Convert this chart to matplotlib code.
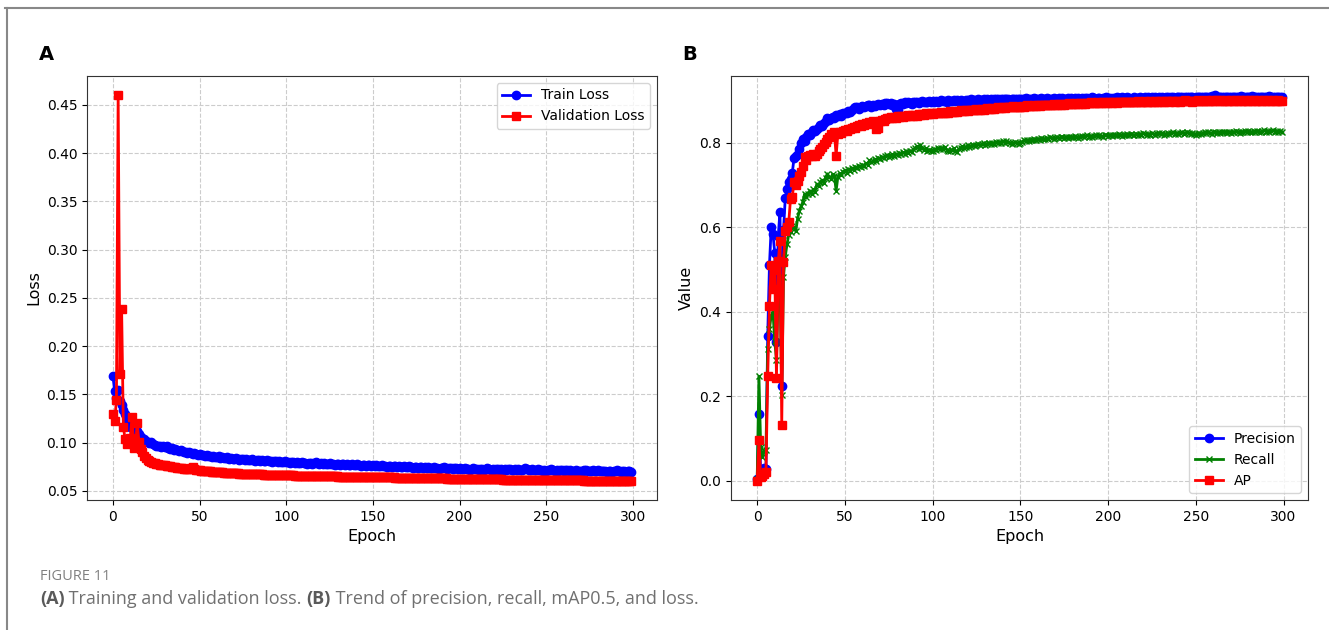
# ==============================
# FIGURE 11 - Loss curves and detection metrics
# ==============================

import numpy as np
import matplotlib.pyplot as plt
from matplotlib.lines import Line2D

# ------------------------------
# 1. Data
# ------------------------------
train_loss = [
    0.169, 0.153, 0.146, 0.155, 0.143, 0.139, 0.134, 0.130, 0.122, 0.120, 0.116, 0.118, 0.113, 0.111, 0.112,
    0.109, 0.106, 0.104, 0.104, 0.102, 0.101, 0.100, 0.101, 0.099, 0.098, 0.097, 0.097, 0.096, 0.095, 0.096,
    0.095, 0.096, 0.094, 0.093, 0.094, 0.092, 0.093, 0.092, 0.091, 0.092, 0.091, 0.090, 0.090, 0.089, 0.090,
    0.089, 0.088, 0.089, 0.088, 0.087, 0.088, 0.087, 0.087, 0.086, 0.087, 0.086, 0.086, 0.085, 0.086, 0.085,
    0.085, 0.086, 0.084, 0.085, 0.084, 0.084, 0.085, 0.083, 0.084, 0.083, 0.083, 0.084, 0.083, 0.082, 0.083,
    0.083, 0.082, 0.083, 0.082, 0.082, 0.083, 0.082, 0.081, 0.082, 0.082, 0.081, 0.082, 0.081, 0.081, 0.082,
    0.081, 0.081, 0.080, 0.081, 0.081, 0.080, 0.081, 0.080, 0.080, 0.081, 0.080, 0.080, 0.079, 0.080, 0.080,
    0.079, 0.080, 0.079, 0.079, 0.080, 0.079, 0.079, 0.078, 0.079, 0.079, 0.078, 0.079, 0.080, 0.079, 0.078,
    0.079, 0.078, 0.079, 0.078, 0.078, 0.079, 0.078, 0.078, 0.077, 0.078, 0.078, 0.077, 0.078, 0.078, 0.077,
    0.078, 0.077, 0.077, 0.078, 0.077, 0.077, 0.078, 0.077, 0.076, 0.077, 0.077, 0.076, 0.077, 0.077, 0.076,
    0.077, 0.076, 0.077, 0.076, 0.076, 0.077, 0.076, 0.076, 0.075, 0.076, 0.076, 0.075, 0.076, 0.076, 0.075,
    0.076, 0.075, 0.075, 0.076, 0.075, 0.075, 0.076, 0.075, 0.074, 0.075, 0.075, 0.074, 0.075, 0.075, 0.074,
    0.075, 0.074, 0.075, 0.074, 0.074, 0.075, 0.074, 0.074, 0.073, 0.074, 0.074, 0.075, 0.074, 0.073, 0.074,
    0.074, 0.073, 0.074, 0.074, 0.073, 0.074, 0.073, 0.073, 0.074, 0.073, 0.073, 0.072, 0.073, 0.074, 0.073,
    0.073, 0.072, 0.073, 0.073, 0.072, 0.073, 0.074, 0.073, 0.072, 0.073, 0.072, 0.073, 0.073, 0.072, 0.073,
    0.072, 0.073, 0.072, 0.073, 0.073, 0.072, 0.072, 0.073, 0.072, 0.073, 0.072, 0.072, 0.073, 0.074, 0.073,
    0.072, 0.072, 0.073, 0.072, 0.072, 0.073, 0.072, 0.072, 0.071, 0.072, 0.071, 0.072, 0.072, 0.073, 0.072,
    0.071, 0.072, 0.071, 0.072, 0.072, 0.071, 0.072, 0.072, 0.071, 0.072, 0.071, 0.071, 0.072, 0.071, 0.071,
    0.071, 0.071, 0.072, 0.072, 0.071, 0.071, 0.071, 0.072, 0.071, 0.071, 0.072, 0.071, 0.071, 0.071, 0.071,
    0.070, 0.071, 0.071, 0.070, 0.071, 0.071, 0.072, 0.071, 0.070, 0.071, 0.071, 0.070, 0.071, 0.071, 0.070,
]

val_loss = [
    0.130, 0.122, 0.144, 0.460, 0.171, 0.238, 0.116, 0.104, 0.099, 0.100, 0.105, 0.127, 0.094, 0.097, 0.120,
    0.101, 0.093, 0.090, 0.086, 0.084, 0.082, 0.081, 0.080, 0.079, 0.0785, 0.078, 0.0775, 0.077, 0.0765, 0.0768,
    0.0765, 0.0762, 0.0758, 0.0755, 0.0752, 0.0748, 0.0745, 0.0742, 0.0738, 0.0735, 0.0733, 0.0730, 0.0728, 0.0726, 0.0724,
    0.0735, 0.0750, 0.0722, 0.0718, 0.0715, 0.0713, 0.0711, 0.0709, 0.0707, 0.0705, 0.0703, 0.0701, 0.0700, 0.0698, 0.0697,
    0.0695, 0.0694, 0.0692, 0.0691, 0.0690, 0.0688, 0.0687, 0.0686, 0.0685, 0.0684, 0.0683, 0.0682, 0.0681, 0.0680, 0.0679,
    0.0678, 0.0677, 0.0676, 0.0676, 0.0675, 0.0674, 0.0673, 0.0673, 0.0672, 0.0671, 0.0670, 0.0670, 0.0669, 0.0668, 0.0668,
    0.0667, 0.0667, 0.0666, 0.0665, 0.0665, 0.0664, 0.0664, 0.0663, 0.0663, 0.0662, 0.0662, 0.0661, 0.0661, 0.0660, 0.0660,
    0.0659, 0.0659, 0.0658, 0.0658, 0.0657, 0.0657, 0.0656, 0.0656, 0.0656, 0.0655, 0.0655, 0.0654, 0.0654, 0.0654, 0.0653,
    0.0653, 0.0652, 0.0652, 0.0652, 0.0651, 0.0651, 0.0651, 0.0650, 0.0650, 0.0650, 0.0649, 0.0649, 0.0649, 0.0648, 0.0648,
    0.0648, 0.0647, 0.0647, 0.0647, 0.0646, 0.0646, 0.0646, 0.0645, 0.0645, 0.0645, 0.0644, 0.0644, 0.0644, 0.0643, 0.0643,
    0.0643, 0.0642, 0.0642, 0.0642, 0.0641, 0.0641, 0.0641, 0.0640, 0.0640, 0.0640, 0.0639, 0.0639, 0.0639, 0.0638, 0.0638,
    0.0638, 0.0637, 0.0637, 0.0637, 0.0636, 0.0636, 0.0636, 0.0635, 0.0635, 0.0635, 0.0634, 0.0634, 0.0634, 0.0633, 0.0633,
    0.0633, 0.0632, 0.0632, 0.0632, 0.0631, 0.0631, 0.0631, 0.0630, 0.0630, 0.0630, 0.0629, 0.0629, 0.0629, 0.0628, 0.0628,
    0.0628, 0.0627, 0.0627, 0.0627, 0.0626, 0.0626, 0.0626, 0.0625, 0.0625, 0.0625, 0.0624, 0.0624, 0.0624, 0.0623, 0.0623,
    0.0623, 0.0622, 0.0622, 0.0622, 0.0621, 0.0621, 0.0621, 0.0620, 0.0620, 0.0620, 0.0620, 0.0619, 0.0619, 0.0619, 0.0619,
    0.0618, 0.0618, 0.0618, 0.0618, 0.0617, 0.0617, 0.0617, 0.0617, 0.0616, 0.0616, 0.0616, 0.0616, 0.0615, 0.0615, 0.0615,
    0.0615, 0.0614, 0.0614, 0.0614, 0.0614, 0.0613, 0.0613, 0.0613, 0.0613, 0.0612, 0.0612, 0.0612, 0.0612, 0.0611, 0.0611,
    0.0611, 0.0611, 0.0610, 0.0610, 0.0610, 0.0610, 0.0610, 0.0609, 0.0609, 0.0609, 0.0609, 0.0609, 0.0608, 0.0608, 0.0608,
    0.0608, 0.0608, 0.0607, 0.0607, 0.0607, 0.0607, 0.0607, 0.0607, 0.0606, 0.0606, 0.0606, 0.0606, 0.0606, 0.0606, 0.0606,
    0.0605, 0.0605, 0.0605, 0.0605, 0.0605, 0.0605, 0.0605, 0.0605, 0.0605, 0.0605, 0.0605, 0.0605, 0.0605, 0.0605, 0.0605,
]

precision = [
    0.004, 0.157, 0.015, 0.012, 0.030, 0.028, 0.343, 0.511, 0.600, 0.584, 0.540, 0.329, 0.580, 0.637, 0.225,
    0.593, 0.669, 0.690, 0.707, 0.715, 0.728, 0.765, 0.768, 0.775, 0.786, 0.800, 0.810, 0.805, 0.815, 0.822,
    0.818, 0.826, 0.830, 0.828, 0.834, 0.838, 0.842, 0.840, 0.848, 0.852, 0.858, 0.855, 0.860, 0.862, 0.858,
    0.866, 0.864, 0.868, 0.865, 0.870, 0.870, 0.872, 0.876, 0.874, 0.879, 0.882, 0.886, 0.884, 0.880, 0.885,
    0.887, 0.884, 0.888, 0.890, 0.889, 0.886, 0.891, 0.888, 0.890, 0.892, 0.889, 0.893, 0.891, 0.894, 0.895,
    0.892, 0.894, 0.890, 0.893, 0.880, 0.878, 0.892, 0.895, 0.893, 0.896, 0.894, 0.897, 0.895, 0.893, 0.897,
    0.896, 0.898, 0.895, 0.897, 0.899, 0.896, 0.898, 0.897, 0.900, 0.898, 0.899, 0.897, 0.900, 0.898, 0.899,
    0.901, 0.899, 0.900, 0.898, 0.901, 0.900, 0.899, 0.902, 0.900, 0.901, 0.899, 0.902, 0.900, 0.892, 0.901,
    0.902, 0.900, 0.903, 0.901, 0.902, 0.900, 0.903, 0.902, 0.901, 0.904, 0.902, 0.903, 0.901, 0.904, 0.902,
    0.903, 0.905, 0.903, 0.902, 0.904, 0.903, 0.905, 0.903, 0.904, 0.902, 0.905, 0.904, 0.903, 0.905, 0.904,
    0.905, 0.903, 0.904, 0.906, 0.904, 0.905, 0.903, 0.905, 0.906, 0.904, 0.905, 0.903, 0.906, 0.904, 0.905,
    0.906, 0.904, 0.905, 0.903, 0.906, 0.905, 0.904, 0.906, 0.905, 0.907, 0.905, 0.904, 0.906, 0.905, 0.906,
    0.904, 0.906, 0.905, 0.907, 0.905, 0.906, 0.904, 0.906, 0.907, 0.905, 0.906, 0.908, 0.906, 0.905, 0.907,
    0.906, 0.905, 0.907, 0.906, 0.908, 0.906, 0.907, 0.905, 0.907, 0.906, 0.908, 0.907, 0.906, 0.908, 0.907,
    0.906, 0.908, 0.907, 0.905, 0.907, 0.908, 0.906, 0.907, 0.909, 0.907, 0.906, 0.908, 0.907, 0.908, 0.906,
    0.908, 0.907, 0.909, 0.907, 0.908, 0.906, 0.908, 0.907, 0.909, 0.908, 0.907, 0.909, 0.908, 0.907, 0.909,
    0.908, 0.910, 0.908, 0.907, 0.909, 0.908, 0.910, 0.908, 0.909, 0.907, 0.909, 0.908, 0.910, 0.909, 0.908,
    0.909, 0.908, 0.910, 0.909, 0.911, 0.909, 0.913, 0.910, 0.909, 0.910, 0.908, 0.910, 0.909, 0.910, 0.909,
    0.910, 0.908, 0.910, 0.909, 0.910, 0.909, 0.911, 0.909, 0.910, 0.908, 0.910, 0.909, 0.911, 0.909, 0.910,
    0.909, 0.910, 0.908, 0.910, 0.909, 0.910, 0.909, 0.911, 0.909, 0.910, 0.909, 0.910, 0.909, 0.910, 0.909,
]

recall = [
    0.003, 0.247, 0.080, 0.056, 0.070, 0.072, 0.311, 0.360, 0.391, 0.400, 0.330, 0.287, 0.450, 0.480, 0.204,
    0.483, 0.531, 0.560, 0.583, 0.590, 0.603, 0.600, 0.591, 0.620, 0.639, 0.650, 0.660, 0.679, 0.672, 0.680,
    0.687, 0.678, 0.690, 0.685, 0.703, 0.698, 0.708, 0.712, 0.705, 0.718, 0.727, 0.720, 0.715, 0.726, 0.722,
    0.687, 0.720, 0.728, 0.724, 0.732, 0.735, 0.730, 0.738, 0.734, 0.741, 0.736, 0.743, 0.740, 0.746, 0.742,
    0.748, 0.745, 0.752, 0.749, 0.759, 0.754, 0.757, 0.762, 0.758, 0.765, 0.761, 0.767, 0.764, 0.769, 0.771,
    0.766, 0.770, 0.773, 0.768, 0.774, 0.771, 0.776, 0.773, 0.778, 0.775, 0.780, 0.777, 0.782, 0.779, 0.785,
    0.788, 0.792, 0.786, 0.795, 0.789, 0.783, 0.787, 0.781, 0.784, 0.780, 0.782, 0.786, 0.783, 0.788, 0.785,
    0.789, 0.786, 0.790, 0.784, 0.782, 0.780, 0.783, 0.787, 0.781, 0.779, 0.785, 0.789, 0.792, 0.788, 0.791,
    0.794, 0.790, 0.793, 0.796, 0.792, 0.795, 0.798, 0.794, 0.797, 0.799, 0.795, 0.798, 0.800, 0.797, 0.801,
    0.798, 0.802, 0.799, 0.803, 0.800, 0.804, 0.801, 0.805, 0.802, 0.800, 0.797, 0.799, 0.802, 0.800, 0.798,
    0.801, 0.803, 0.806, 0.804, 0.807, 0.805, 0.808, 0.806, 0.809, 0.807, 0.810, 0.808, 0.811, 0.809, 0.810,
    0.812, 0.810, 0.813, 0.811, 0.809, 0.812, 0.814, 0.811, 0.813, 0.815, 0.812, 0.814, 0.811, 0.813, 0.815,
    0.813, 0.816, 0.814, 0.812, 0.815, 0.817, 0.814, 0.816, 0.818, 0.815, 0.817, 0.814, 0.816, 0.818, 0.816,
    0.819, 0.817, 0.815, 0.818, 0.820, 0.817, 0.819, 0.816, 0.818, 0.820, 0.818, 0.821, 0.819, 0.817, 0.820,
    0.818, 0.821, 0.819, 0.822, 0.820, 0.818, 0.821, 0.819, 0.822, 0.820, 0.823, 0.821, 0.819, 0.822, 0.820,
    0.823, 0.821, 0.819, 0.822, 0.824, 0.821, 0.823, 0.820, 0.822, 0.824, 0.821, 0.823, 0.825, 0.822, 0.824,
    0.821, 0.823, 0.825, 0.822, 0.824, 0.826, 0.823, 0.821, 0.824, 0.822, 0.820, 0.822, 0.824, 0.821, 0.823,
    0.825, 0.823, 0.826, 0.824, 0.822, 0.825, 0.827, 0.824, 0.826, 0.823, 0.825, 0.827, 0.825, 0.823, 0.826,
    0.824, 0.827, 0.825, 0.828, 0.826, 0.824, 0.827, 0.825, 0.828, 0.826, 0.829, 0.827, 0.825, 0.828, 0.826,
    0.829, 0.827, 0.825, 0.828, 0.830, 0.827, 0.829, 0.826, 0.828, 0.830, 0.827, 0.829, 0.827, 0.828, 0.827,
]

ap = [
    0.000, 0.096, 0.010, 0.012, 0.016, 0.020, 0.247, 0.415, 0.511, 0.455, 0.499, 0.244, 0.520, 0.567, 0.132,
    0.519, 0.591, 0.600, 0.613, 0.667, 0.672, 0.707, 0.700, 0.711, 0.722, 0.731, 0.745, 0.766, 0.760, 0.770,
    0.772, 0.768, 0.775, 0.770, 0.774, 0.780, 0.785, 0.790, 0.798, 0.803, 0.810, 0.815, 0.822, 0.818, 0.825,
    0.770, 0.822, 0.826, 0.824, 0.829, 0.831, 0.828, 0.834, 0.832, 0.836, 0.838, 0.835, 0.840, 0.842, 0.839,
    0.846, 0.843, 0.847, 0.845, 0.849, 0.848, 0.851, 0.850, 0.834, 0.836, 0.852, 0.855, 0.853, 0.857, 0.860,
    0.858, 0.861, 0.859, 0.862, 0.860, 0.863, 0.861, 0.864, 0.862, 0.865, 0.863, 0.866, 0.864, 0.866, 0.865,
    0.867, 0.865, 0.868, 0.866, 0.869, 0.867, 0.870, 0.868, 0.869, 0.871, 0.869, 0.870, 0.872, 0.870, 0.871,
    0.873, 0.871, 0.872, 0.874, 0.872, 0.875, 0.873, 0.874, 0.876, 0.874, 0.875, 0.877, 0.875, 0.876, 0.878,
    0.876, 0.877, 0.879, 0.877, 0.878, 0.880, 0.878, 0.879, 0.881, 0.879, 0.880, 0.882, 0.880, 0.881, 0.883,
    0.881, 0.882, 0.884, 0.882, 0.883, 0.885, 0.883, 0.884, 0.886, 0.884, 0.885, 0.887, 0.885, 0.886, 0.885,
    0.886, 0.888, 0.886, 0.887, 0.889, 0.887, 0.888, 0.887, 0.889, 0.888, 0.890, 0.888, 0.889, 0.891, 0.889,
    0.890, 0.889, 0.891, 0.890, 0.892, 0.890, 0.891, 0.893, 0.891, 0.892, 0.891, 0.893, 0.892, 0.894, 0.892,
    0.893, 0.892, 0.894, 0.893, 0.895, 0.893, 0.894, 0.893, 0.895, 0.894, 0.896, 0.894, 0.895, 0.894, 0.896,
    0.895, 0.894, 0.896, 0.895, 0.897, 0.895, 0.896, 0.895, 0.897, 0.896, 0.895, 0.897, 0.896, 0.898, 0.896,
    0.897, 0.896, 0.898, 0.897, 0.896, 0.898, 0.897, 0.899, 0.897, 0.898, 0.897, 0.899, 0.898, 0.897, 0.899,
    0.898, 0.897, 0.899, 0.898, 0.900, 0.898, 0.899, 0.898, 0.900, 0.899, 0.898, 0.900, 0.899, 0.898, 0.900,
    0.899, 0.898, 0.900, 0.899, 0.901, 0.899, 0.900, 0.899, 0.898, 0.900, 0.899, 0.901, 0.900, 0.899, 0.900,
    0.899, 0.901, 0.900, 0.899, 0.901, 0.900, 0.899, 0.901, 0.900, 0.902, 0.900, 0.899, 0.901, 0.900, 0.899,
    0.901, 0.900, 0.899, 0.901, 0.900, 0.902, 0.900, 0.899, 0.901, 0.900, 0.899, 0.901, 0.900, 0.902, 0.900,
    0.899, 0.901, 0.900, 0.899, 0.901, 0.900, 0.902, 0.900, 0.899, 0.901, 0.900, 0.899, 0.901, 0.900, 0.900,
]

epochs = np.arange(len(train_loss))

# caption pieces: (text, bold?)
caption_parts = [
    ("(A)", True), (" Training and validation loss. ", False),
    ("(B)", True), (" Trend of precision, recall, mAP0.5, and loss.", False),
]

# ------------------------------
# 2. Figure layout
# ------------------------------
fig = plt.figure(figsize=(13.29, 6.30), dpi=100)
fig.patch.set_facecolor("white")

ax1 = fig.add_axes([0.0655, 0.2063, 0.4289, 0.6731])
ax2 = fig.add_axes([0.5500, 0.2063, 0.4342, 0.6731])

# ------------------------------
# 3. Panel A: loss
# ------------------------------
ax1.plot(epochs, train_loss, color="blue", marker="o", markersize=6, linewidth=2, label="Train Loss")
ax1.plot(epochs, val_loss, color="red", marker="s", markersize=6, linewidth=2, label="Validation Loss")
ax1.set_xlabel("Epoch", fontsize=11.5)
ax1.set_ylabel("Loss", fontsize=11.5)
ax1.set_yticks(np.arange(0.05, 0.46, 0.05))
ax1.grid(True, linestyle="--", color="#cccccc", linewidth=0.8)
ax1.legend(loc="upper right", fontsize=10)
ax1.tick_params(labelsize=10)

# ------------------------------
# 4. Panel B: precision / recall / AP
# ------------------------------
ax2.plot(epochs, precision, color="blue", marker="o", markersize=6, linewidth=2, label="Precision")
ax2.plot(epochs, recall, color="green", marker="x", markersize=4.5, linewidth=2, label="Recall")
ax2.plot(epochs, ap, color="red", marker="s", markersize=6, linewidth=2, label="AP")
ax2.set_xlabel("Epoch", fontsize=11.5)
ax2.set_ylabel("Value", fontsize=11.5)
ax2.grid(True, linestyle="--", color="#cccccc", linewidth=0.8)
ax2.legend(loc="lower right", fontsize=10)
ax2.tick_params(labelsize=10)

for ax in (ax1, ax2):
    for s in ax.spines.values():
        s.set_color("#333333")

# ------------------------------
# 5. Panel letters, caption and card border
# ------------------------------
fig.text(0.029, 0.905, "A", fontsize=14, fontweight="bold")
fig.text(0.513, 0.905, "B", fontsize=14, fontweight="bold")

fig.text(0.030, 0.080, "FIGURE 11", fontsize=10.5, color="#808080", family="Open Sans")

# caption: pieces chained one after another so bold and normal text can mix
anchor = fig.text(0.030, 0.042, caption_parts[0][0], fontsize=13, color="#5a5a5a",
                  family="Open Sans", fontweight="bold")
for txt, bold in caption_parts[1:]:
    anchor = fig.add_artist(plt.Annotation(
        txt, xy=(1, 0), xycoords=anchor, xytext=(0, 0), textcoords="offset points",
        va="bottom", fontsize=13, color="#5a5a5a" if bold else "#707070",
        family="Open Sans", fontweight="bold" if bold else "normal"))

fig.add_artist(Line2D([0.004, 1.0], [0.987, 0.987], color="#888888", linewidth=1.5))
fig.add_artist(Line2D([0.005, 0.005], [0.0, 0.987], color="#888888", linewidth=1.5))

plt.savefig("out.png", dpi=100)
